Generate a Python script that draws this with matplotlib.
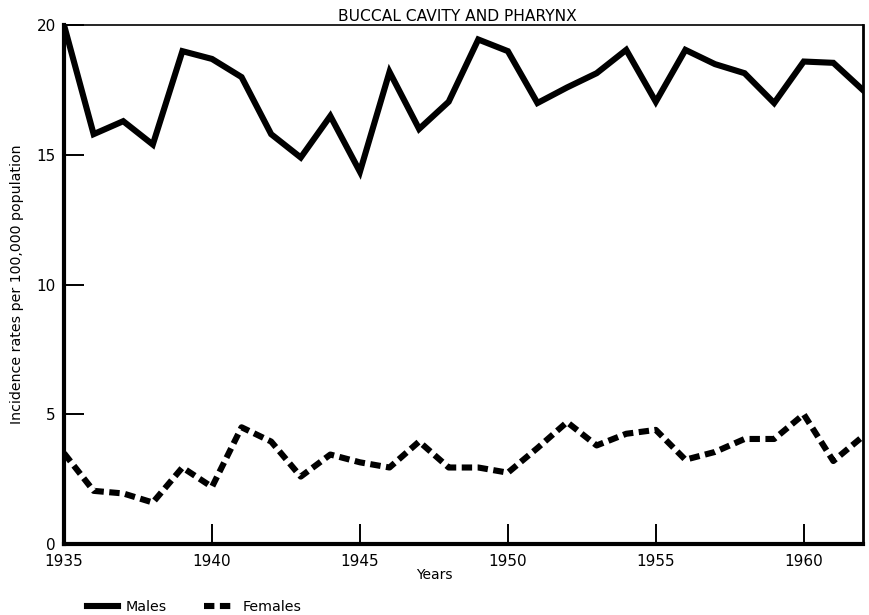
import numpy as np
import matplotlib.pyplot as plt

plt.rcParams['font.family'] = ['DejaVu Sans']

years = np.arange(1935, 1963)
males = [20.0, 15.8, 16.3, 15.4, 19.0, 18.7, 18.0, 15.8, 14.9, 16.5,
         14.35, 18.2, 16.0, 17.05, 19.45, 19.0, 17.0, 17.6, 18.15, 19.05,
         17.05, 19.05, 18.5, 18.15, 17.0, 18.6, 18.55, 17.5]
females = [3.5, 2.05, 1.95, 1.6, 2.95, 2.2, 4.5, 3.95, 2.6, 3.45,
           3.15, 2.95, 3.95, 2.95, 2.95, 2.75, 3.7, 4.7, 3.8, 4.25,
           4.4, 3.25, 3.55, 4.05, 4.05, 5.0, 3.2, 4.15]
xticks = [1935, 1940, 1945, 1950, 1955, 1960]
yticks = [0, 5, 10, 15, 20]

fig = plt.figure(figsize=(8.69, 6.15), dpi=100)
ax = fig.add_axes([0.0737, 0.1154, 0.9193, 0.8436])

ax.plot(years, males, color='black', lw=4.4, solid_joinstyle='miter', label='Males')
ax.plot(years, females, color='black', lw=4.4, linestyle=(0, (1.7, 0.9)),
        dash_capstyle='butt', label='Females')

ax.set_xlim(1935, 1962)
ax.set_ylim(0, 20)
ax.set_xticks(xticks)
ax.set_yticks(yticks)
ax.tick_params(direction='in', length=14.5, width=1.4, labelsize=11, pad=7)
ax.tick_params(axis='y', pad=6)
for side, w in [('left', 3), ('bottom', 3), ('right', 2), ('top', 1.2)]:
    ax.spines[side].set_linewidth(w)

ax.set_title('BUCCAL CAVITY AND PHARYNX', fontsize=11.2, pad=3, x=0.492)
ax.set_xlabel('Years', fontsize=10, labelpad=-1)
ax.xaxis.set_label_coords(0.464, -0.047)
ax.set_ylabel('Incidence rates per 100,000 population', fontsize=10.2, labelpad=9)

fig.legend(loc='lower left', bbox_to_anchor=(0.085, -0.02), ncol=2, frameon=False,
           fontsize=10.3, handlelength=2.2, columnspacing=2.6, handletextpad=0.5)

fig.savefig('out.png', dpi=100)
